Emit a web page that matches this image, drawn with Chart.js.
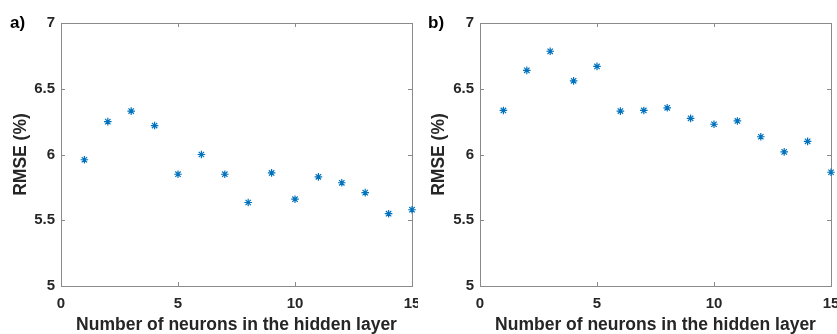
<!DOCTYPE html>
<html>
<head>
<meta charset="utf-8">
<script src="https://cdn.jsdelivr.net/npm/chart.js@4.4.0/dist/chart.umd.min.js"></script>
<style>
  html, body { margin: 0; padding: 0; background: #fff; overflow: hidden; width: 837px; height: 334px; }
  .panel { position: absolute; top: 0; height: 334px; }
  .tag { position: absolute; font-family: "Liberation Sans", Arial, sans-serif; font-weight: bold; font-size: 17px; color: #000; line-height: 1; }
</style>
</head>
<body>
<div class="panel" id="pa" style="left:0;width:418px;"><canvas id="ca" width="418" height="334"></canvas></div>
<div class="panel" id="pb" style="left:418px;width:419px;"><canvas id="cb" width="419" height="334"></canvas></div>
<div class="tag" style="left:10px;top:14px;">a)</div>
<div class="tag" style="left:428px;top:14px;">b)</div>
<script>
// ---- data ----
const neurons = [1,2,3,4,5,6,7,8,9,10,11,12,13,14,15];
const rmseA = [5.96,6.25,6.33,6.22,5.85,6.00,5.85,5.635,5.86,5.66,5.83,5.785,5.71,5.55,5.58];
const rmseB = [6.335,6.64,6.785,6.56,6.67,6.33,6.335,6.355,6.275,6.23,6.255,6.135,6.02,6.10,5.865];
const xTicks = [0,5,10,15];
const xTickLabels = ['0','5','10','15'];
const yTicks = [5,5.5,6,6.5,7];
const yTickLabels = ['5','5.5','6','6.5','7'];
const xTitle = 'Number of neurons in the hidden layer';
const yTitle = 'RMSE (%)';

const FONT = '"Liberation Sans", Arial, sans-serif';
const TXT = '#262626';
const AXIS = '#8a8a8a';
const MARK = '#0072BD';

const boxPlugin = {
  id: 'box',
  beforeDatasetsDraw(chart) {
    const {ctx, chartArea: {left, right, top, bottom}, scales: {x, y}} = chart;
    ctx.save();
    ctx.strokeStyle = AXIS;
    ctx.lineWidth = 1;
    ctx.strokeRect(Math.round(left) + 0.5, Math.round(top) + 0.5, Math.round(right - left), Math.round(bottom - top));
    const L = 4;
    ctx.beginPath();
    x.ticks.forEach(t => {
      const px = Math.round(x.getPixelForValue(t.value)) + 0.5;
      ctx.moveTo(px, bottom); ctx.lineTo(px, bottom - L);
      ctx.moveTo(px, top); ctx.lineTo(px, top + L);
    });
    y.ticks.forEach(t => {
      const py = Math.round(y.getPixelForValue(t.value)) + 0.5;
      ctx.moveTo(left, py); ctx.lineTo(left + L, py);
      ctx.moveTo(right, py); ctx.lineTo(right - L, py);
    });
    ctx.stroke();
    ctx.restore();
  }
};

function makeChart(id, values, yAxisWidth) {
  return new Chart(document.getElementById(id), {
    type: 'scatter',
    data: {
      datasets: [{
        data: neurons.map((n, i) => ({x: n, y: values[i]})),
        pointStyle: 'star',
        pointRadius: 3.8,
        pointHoverRadius: 3.8,
        borderColor: MARK,
        backgroundColor: MARK,
        borderWidth: 1.2,
        clip: false
      }]
    },
    options: {
      responsive: false,
      animation: false,
      devicePixelRatio: 1,
      layout: { padding: { left: 0, right: 6, top: 23, bottom: 0 } },
      plugins: { legend: { display: false }, tooltip: { enabled: false } },
      events: [],
      scales: {
        x: {
          type: 'linear', min: 0, max: 15,
          afterBuildTicks: s => { s.ticks = xTicks.map(v => ({value: v})); },
          afterFit: s => { s.height = 48; s.paddingLeft = 0; s.paddingRight = 0; },
          grid: { display: false, drawTicks: false },
          border: { display: false },
          ticks: {
            color: TXT, font: { family: FONT, size: 15, weight: 'bold' }, padding: 9, maxRotation: 0, autoSkip: false,
            callback: v => xTickLabels[xTicks.indexOf(v)]
          },
          title: { display: true, text: xTitle, color: TXT, font: { family: FONT, size: 17.5, weight: 'bold', lineHeight: 1 }, padding: { top: 0, bottom: 0 } }
        },
        y: {
          type: 'linear', min: 5, max: 7,
          afterBuildTicks: s => { s.ticks = yTicks.map(v => ({value: v})); },
          afterFit: s => { s.width = yAxisWidth; s.paddingTop = 0; s.paddingBottom = 0; },
          grid: { display: false, drawTicks: false },
          border: { display: false },
          ticks: {
            color: TXT, font: { family: FONT, size: 15, weight: 'bold' }, padding: 6, autoSkip: false,
            callback: v => yTickLabels[yTicks.indexOf(v)]
          },
          title: { display: true, text: yTitle, color: TXT, font: { family: FONT, size: 17.5, weight: 'bold', lineHeight: 1 }, padding: { top: 12, bottom: 0 } }
        }
      }
    },
    plugins: [boxPlugin]
  });
}

makeChart('ca', rmseA, 61);
makeChart('cb', rmseB, 62);
</script>
</body>
</html>
